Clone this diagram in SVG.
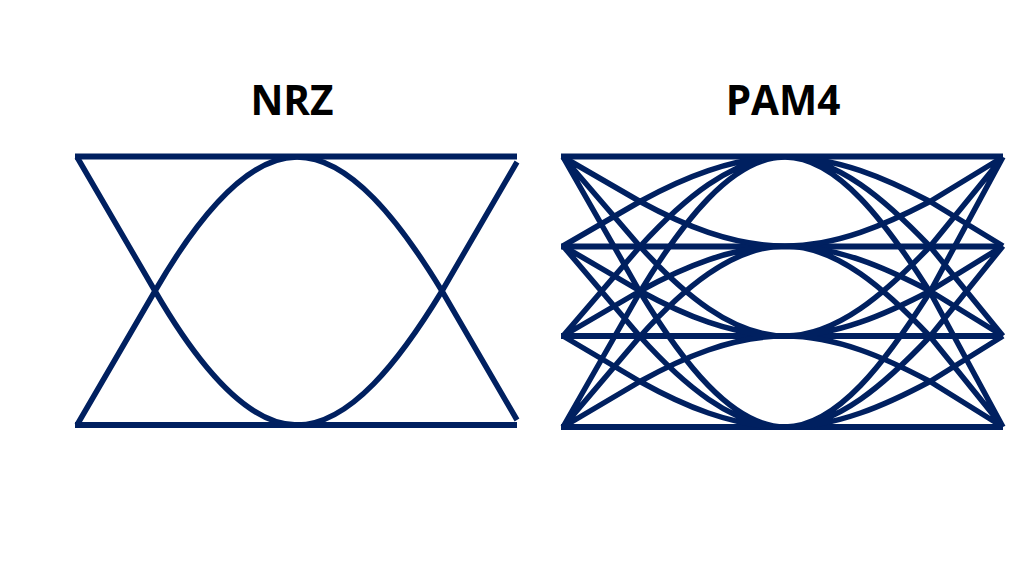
<svg xmlns="http://www.w3.org/2000/svg" width="1024" height="576" viewBox="0 0 1024 576">
<style>
.t{font-family:"Open Sans","Noto Sans","Liberation Sans",sans-serif;font-weight:700;font-size:40.500px;fill:#000;text-anchor:middle}
.e{fill:none;stroke:#002060;stroke-width:5.500;stroke-linejoin:round}
.h{fill:none;stroke:#002060;stroke-width:6}
</style>
<rect width="1024" height="576" fill="#fff"/>
<g id="nrz">
<text class="t" x="292" y="115">NRZ</text>
<path class="h" d="M75 156.500H517M75 425H517"/>
<path class="e" d="M77 157L155 291C195 360 245 425 297 425C350 425 400 360 442 291L517 162"/>
<path class="e" d="M77 425L155 291C195 222 245 157 297 157C350 157 400 222 442 291L517 420"/>
</g>
<g id="pam4">
<text class="t" x="783" y="115">PAM4</text>
<path class="h" d="M561 156.500H1003M561 246.500H1003M561 336H1003M561 427H1003"/>
<path class="e" d="M563 157L640 201.500C682 224.400 732 246 785 246M563 157L640 246.500C682 292.500 732 336 785 336M563 157L640 292C682 361.400 732 427 785 427M563 246L640 201.500C682 178.600 732 157 785 157M563 246L640 291C682 314.100 732 336 785 336M563 246L640 336.500C682 383 732 427 785 427M563 336L640 246.500C682 200.500 732 157 785 157M563 336L640 291C682 267.900 732 246 785 246M563 336L640 381.500C682 404.900 732 427 785 427M563 427L640 292C682 222.600 732 157 785 157M563 427L640 336.500C682 290 732 246 785 246M563 427L640 381.500C682 358.100 732 336 785 336"/>
<path class="e" d="M1003 157L930 201.500C886 224.400 837 246 785 246M1003 157L930 246.500C886 292.500 837 336 785 336M1003 157L930 292C886 361.400 837 427 785 427M1003 246L930 201.500C886 178.600 837 157 785 157M1003 246L930 291C886 314.100 837 336 785 336M1003 246L930 336.500C886 383 837 427 785 427M1003 336L930 246.500C886 200.500 837 157 785 157M1003 336L930 291C886 267.900 837 246 785 246M1003 336L930 381.500C886 404.900 837 427 785 427M1003 427L930 292C886 222.600 837 157 785 157M1003 427L930 336.500C886 290 837 246 785 246M1003 427L930 381.500C886 358.100 837 336 785 336"/>
</g>
</svg>
